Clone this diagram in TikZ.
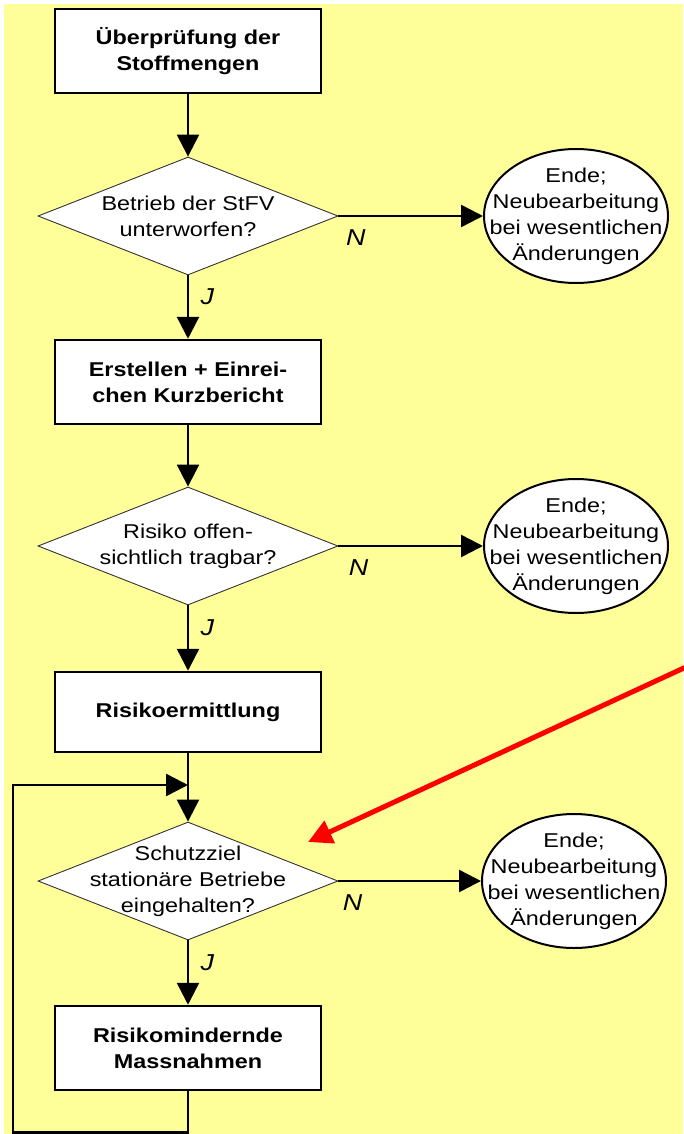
\documentclass[tikz,border=0pt]{standalone}
\usepackage{fontspec}
\setmainfont{Liberation Sans}[FakeStretch=1.17]
\usetikzlibrary{arrows.meta,shapes.geometric}
\definecolor{paleyellow}{RGB}{255,255,153}

\begin{document}
\begin{tikzpicture}[x=1pt,y=-1pt]

	\tikzstyle stage box=[draw,line width=2.5pt,fill=white,minimum width=266pt,minimum height=84pt,inner sep=0pt,align=center,font=\fontsize{20}{26}\selectfont\bfseries];
	\tikzstyle question=[diamond,draw=black!80,line width=0.9pt,fill=white,minimum width=300pt,minimum height=118pt,inner sep=0pt];
	\tikzstyle end oval=[ellipse,draw,line width=2pt,fill=white,minimum width=184pt,minimum height=134pt,inner sep=0pt];
	\tikzstyle inner text=[align=center,font=\fontsize{20}{26}\selectfont];
	\tikzstyle answer=[font=\fontsize{23}{26}\selectfont\itshape];
	\tikzstyle flow=[line width=2.5pt,-{Triangle[length=22pt,width=22pt]}];
	\tikzstyle plain flow=[line width=2.5pt];
	\tikzstyle pointer=[red,line width=5pt,-{Triangle[length=24pt,width=24pt]}];

	\useasboundingbox (0,0) rectangle (683,1134);
	\fill[paleyellow] (4,4) rectangle (683,1134);

	% main column
	\node[stage box] (check) at (188,51) {Überprüfung der\\Stoffmengen};
	\node[question,label={[inner text]center:Betrieb der StFV\\unterworfen?}] (q1) at (188,216) {};
	\node[stage box] (report) at (188,382) {Erstellen + Einrei-\\chen Kurzbericht};
	\node[question,label={[inner text]center:Risiko offen-\\sichtlich tragbar?}] (q2) at (188,546) {};
	\node[stage box,minimum height=80pt] (assess) at (188,712) {Risikoermittlung};
	\coordinate (merge) at (188,785);
	\node[question,label={[inner text]center:Schutzziel\\stationäre Betriebe\\eingehalten?}] (q3) at (188,881) {};
	\node[stage box] (measures) at (188,1048) {Risikomindernde\\Massnahmen};

	% exits
	\node[end oval,label={[inner text]center:Ende;\\Neubearbeitung\\bei wesentlichen\\Änderungen}] (end1) at (576,216) {};
	\node[end oval,label={[inner text]center:Ende;\\Neubearbeitung\\bei wesentlichen\\Änderungen}] (end2) at (576,546) {};
	\node[end oval,label={[inner text]center:Ende;\\Neubearbeitung\\bei wesentlichen\\Änderungen}] (end3) at (574,881) {};

	\draw[flow] (check) -- (q1);
	\draw[flow] (q1) -- node[answer,pos=0.12,below=9pt]{N} (end1);
	\draw[flow] (q1) -- node[answer,pos=0.34,right=8pt]{J} (report);
	\draw[flow] (report) -- (q2);
	\draw[flow] (q2) -- node[answer,pos=0.14,below=9pt]{N} (end2);
	\draw[flow] (q2) -- node[answer,pos=0.34,right=8pt]{J} (assess);
	\draw[plain flow] (assess) -- (merge);
	\draw[flow] (merge) -- (q3);
	\draw[flow] (q3) -- node[answer,pos=0.1,below=9pt]{N} (end3);
	\draw[flow] (q3) -- node[answer,pos=0.34,right=8pt]{J} (measures);
	\draw[flow] (measures.south) -- ++(0,41) -| ([xshift=-175pt]merge) -- (merge);

	\coordinate (pointer start) at (686,667);
	\coordinate (pointer tip) at (308,842);
	\draw[pointer] (pointer start) -- (pointer tip);

\end{tikzpicture}
\end{document}
